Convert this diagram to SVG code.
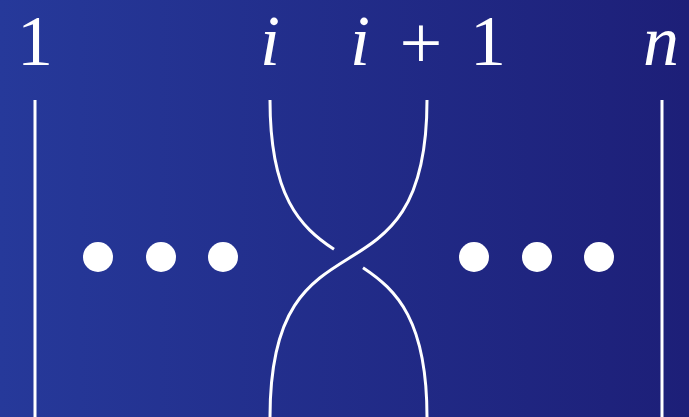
<svg xmlns="http://www.w3.org/2000/svg" width="689" height="417" viewBox="0 0 689 417">
  <defs>
    <linearGradient id="bg" x1="0" y1="0" x2="689" y2="0" gradientUnits="userSpaceOnUse">
      <stop offset="0" stop-color="#26399a"/>
      <stop offset="1" stop-color="#1d1f78"/>
    </linearGradient>
    <style>
      .strand { fill: none; stroke: #ffffff; stroke-width: 3; }
      .dot { fill: #ffffff; }
      .lbl { fill: #ffffff; font-family: "Liberation Serif", "DejaVu Serif", serif; font-size: 72px; text-anchor: middle; }
      .it { font-style: italic; }
      .plus { font-size: 76px; }
    </style>
  </defs>
  <rect x="0" y="0" width="689" height="417" fill="url(#bg)"/>

  <g id="labels">
    <text class="lbl" x="35" y="65">1</text>
    <text class="lbl it" x="270" y="65">i</text>
    <text class="lbl" y="65"><tspan class="it" x="360">i</tspan><tspan class="plus" x="421" y="68">+</tspan><tspan x="488" y="65">1</tspan></text>
    <text class="lbl it" x="661" y="65">n</text>
  </g>

  <g id="strands">
    <path id="strand-1" class="strand" d="M35,100 V417"/>
    <path id="strand-n" class="strand" d="M662,100 V417"/>
    <path id="strand-i-upper" class="strand" d="M270,100 C270,196.4 300.1,226.9 334,249.3"/>
    <path id="strand-i-lower" class="strand" d="M363,267.7 C396.9,290.1 427,320.6 427,417"/>
    <path id="strand-i1-over" class="strand" d="M427,100 C427,320 270,197 270,417"/>
  </g>

  <g id="dots">
    <circle class="dot" cx="98" cy="257" r="15"/>
    <circle class="dot" cx="161" cy="257" r="15"/>
    <circle class="dot" cx="223" cy="257" r="15"/>
    <circle class="dot" cx="474" cy="257" r="15"/>
    <circle class="dot" cx="537" cy="257" r="15"/>
    <circle class="dot" cx="599" cy="257" r="15"/>
  </g>
</svg>
